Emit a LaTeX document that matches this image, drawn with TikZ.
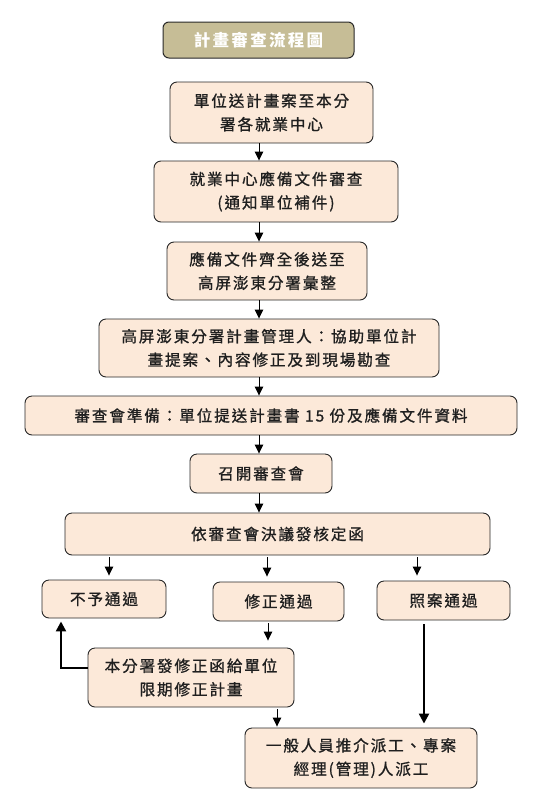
\documentclass[tikz,border=0pt]{standalone}
\usepackage{fontspec}
\newfontfamily\cjk[LetterSpace=12,FakeBold=1]{Noto Sans CJK TC}
\newfontfamily\cjkt[LetterSpace=14]{Noto Sans CJK TC}
\usetikzlibrary{arrows.meta,calc}
\definecolor{boxfill}{RGB}{252,233,217}
\definecolor{titlefill}{RGB}{198,189,150}
\definecolor{edge}{RGB}{40,40,40}
\begin{document}
\begin{tikzpicture}[x=1pt,y=-1pt,
  box/.style={draw=edge, line width=0.9pt, fill=boxfill, rounded corners=7pt,
    align=center, inner sep=0pt, text=black!88,
    font=\cjk\fontsize{15.6}{23.5}\selectfont},
  titlebox/.style={draw=edge, line width=1pt, fill=titlefill, rounded corners=6pt,
    align=center, inner sep=0pt, text=white,
    font=\cjkt\bfseries\fontsize{16.5}{18}\selectfont},
  arr/.style={draw=black, line width=0.9pt, -{Triangle[width=8.5pt,length=9pt]}},
  tarr/.style={draw=black, line width=2.3pt, -{Triangle[width=10pt,length=10pt]}},
]
\useasboundingbox (0,0) rectangle (541,812);
\fill[white] (0,0) rectangle (541,812);

\node[titlebox, minimum width=191pt, minimum height=36pt] (t) at (258.5,40) {計畫審查流程圖};

\node[box, minimum width=203pt, minimum height=61pt] (b1) at (271.5,112.5) {單位送計畫案至本分\\署各就業中心};
\node[box, minimum width=244pt, minimum height=61pt] (b2) at (276,191.5) {就業中心應備文件審查\\(通知單位補件)};
\node[box, minimum width=200pt, minimum height=58pt] (b3) at (267,271) {應備文件齊全後送至\\高屏澎東分署彙整};
\node[box, minimum width=340pt, minimum height=58pt] (b4) at (269,348) {高屏澎東分署計畫管理人：協助單位計\\畫提案、內容修正及到現場勘查};
\node[box, minimum width=492pt, minimum height=39pt] (b5) at (271,415.5) {審查會準備：單位提送計畫書 15 份及應備文件資料};
\node[box, minimum width=142pt, minimum height=39pt] (b6) at (261,473.5) {召開審查會};
\node[box, minimum width=425pt, minimum height=42pt] (b7) at (277.5,534) {依審查會決議發核定函};
\node[box, minimum width=124pt, minimum height=38pt] (no) at (104,599) {不予通過};
\node[box, minimum width=131pt, minimum height=39pt] (mod) at (278.5,601.5) {修正通過};
\node[box, minimum width=133pt, minimum height=39pt] (ok) at (443.5,600.5) {照案通過};
\node[box, minimum width=206pt, minimum height=59pt] (fix) at (191,677.5) {本分署發修正函給單位\\限期修正計畫};
\node[box, minimum width=232pt, minimum height=60pt] (fin) at (361,758) {一般人員推介派工、專案\\經理(管理)人派工};

\coordinate (xm) at (259,0);
\coordinate (xa) at (109,0);
\coordinate (xb) at (267,0);
\coordinate (xc) at (417,0);
\coordinate (xd) at (268,0);
\coordinate (xe) at (277,0);
\coordinate (xf) at (424,0);
\coordinate (xg) at (61,0);

\draw[arr] (b1.south -| xm) -- (b2.north -| xm);
\draw[arr] (b2.south -| xm) -- (b3.north -| xm);
\draw[arr] (b3.south -| xm) -- (b4.north -| xm);
\draw[arr] (b4.south -| xm) -- (b5.north -| xm);
\draw[arr] (b5.south -| xm) -- (b6.north -| xm);
\draw[arr] (b6.south -| xm) -- (b7.north -| xm);

\draw[arr, shorten <=2pt, shorten >=4pt] (b7.south -| xa) -- (no.north -| xa);
\draw[arr, shorten <=2pt, shorten >=5pt] (b7.south -| xb) -- (mod.north -| xb);
\draw[arr, shorten <=2pt, shorten >=5pt] (b7.south -| xc) -- (ok.north -| xc);

\draw[arr, shorten <=2pt, shorten >=7pt] (mod.south -| xd) -- (fix.north -| xd);
\draw[arr, shorten <=2pt, shorten >=1pt] (fix.south -| xe) -- (fin.north -| xe);

\coordinate (nofoot) at ($(no.south -| xg)+(0,3)$);
\draw[tarr] ([yshift=9.5pt]fix.west) -| (nofoot);
\draw[tarr, shorten <=4pt, shorten >=4pt] (ok.south -| xf) -- (fin.north -| xf);
\end{tikzpicture}
\end{document}
